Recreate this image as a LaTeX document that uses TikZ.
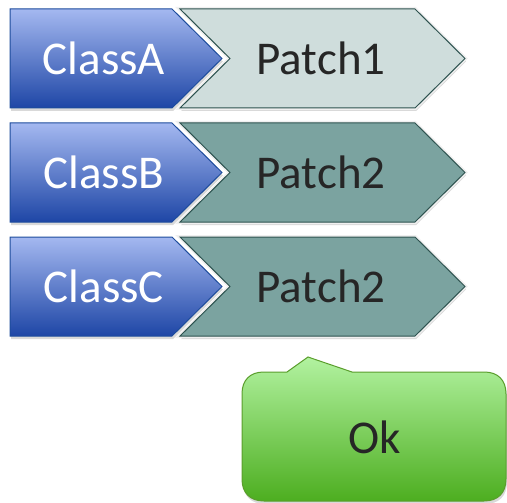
\documentclass[tikz,border=0pt]{standalone}
\usepackage{fontspec}
\setmainfont{Carlito}
\usetikzlibrary{shadows}
\definecolor{blueTop}{HTML}{A4B8F0}
\definecolor{blueMid}{HTML}{6C86D8}
\definecolor{blueBot}{HTML}{1E46A6}
\definecolor{blueLine}{HTML}{1D4C9C}
\definecolor{patchLight}{HTML}{CFDDDC}
\definecolor{patchDark}{HTML}{7BA3A0}
\definecolor{patchLine}{HTML}{2E5350}
\definecolor{greenTop}{HTML}{B2F2A0}
\definecolor{greenBot}{HTML}{4DAE20}
\definecolor{greenLine}{HTML}{5A9E2C}
\definecolor{inkText}{HTML}{262626}
\tikzset{
  softshadow/.style={drop shadow={opacity=0.3, shadow xshift=1pt, shadow yshift=-3pt}},
  classbox/.style={softshadow, top color=blueTop, middle color=blueMid, bottom color=blueBot, draw=blueLine, line width=1pt, line join=miter},
  patchbox/.style={softshadow, draw=patchLine, line width=1pt, preaction={draw=white!88!gray, line width=4pt}},
  callout/.style={softshadow, top color=greenTop, bottom color=greenBot, draw=greenLine, line width=1pt},
  classtext/.style={text=white, font=\fontsize{47}{50}\selectfont},
  patchtext/.style={text=inkText, font=\fontsize{47}{50}\selectfont},
}
\begin{document}
\begin{tikzpicture}[x=1pt, y=-1pt]
\useasboundingbox (0,0) rectangle (507,503);
% three rows: class arrow followed by a patch chevron
\foreach \top/\fill/\cname/\pname/\ctext/\ptext in
  {9/patchLight/classA/patchA/ClassA/Patch1,
   123/patchDark/classB/patchB/ClassB/Patch2,
   237/patchDark/classC/patchC/ClassC/Patch2}{
  \pgfmathsetmacro{\bot}{\top+99}
  \pgfmathsetmacro{\mid}{\top+49.5}
  \path[patchbox, fill=\fill] (180,\top) -- (415,\top) -- (465,\mid) -- (415,\bot) -- (180,\bot) -- (230,\mid) -- cycle;
  \path[classbox] (10,\top) -- (172,\top) -- (222,\mid) -- (172,\bot) -- (10,\bot) -- cycle;
  \node[classtext] (\cname) at (104,\mid) {\ctext};
  \node[patchtext] (\pname) at (321,\mid) {\ptext};
}
% callout pointing up at the last patch
\path[callout] (287,372) -- (308,357) -- (352,372) -- (484,372)
  .. controls (498,372) and (506,380) .. (506,394) -- (506,479)
  .. controls (506,493) and (498,501) .. (484,501) -- (264,501)
  .. controls (250,501) and (242,493) .. (242,479) -- (242,394)
  .. controls (242,380) and (250,372) .. (264,372) -- cycle;
\node[patchtext] (ok) at (375,437) {Ok};
\end{tikzpicture}
\end{document}
